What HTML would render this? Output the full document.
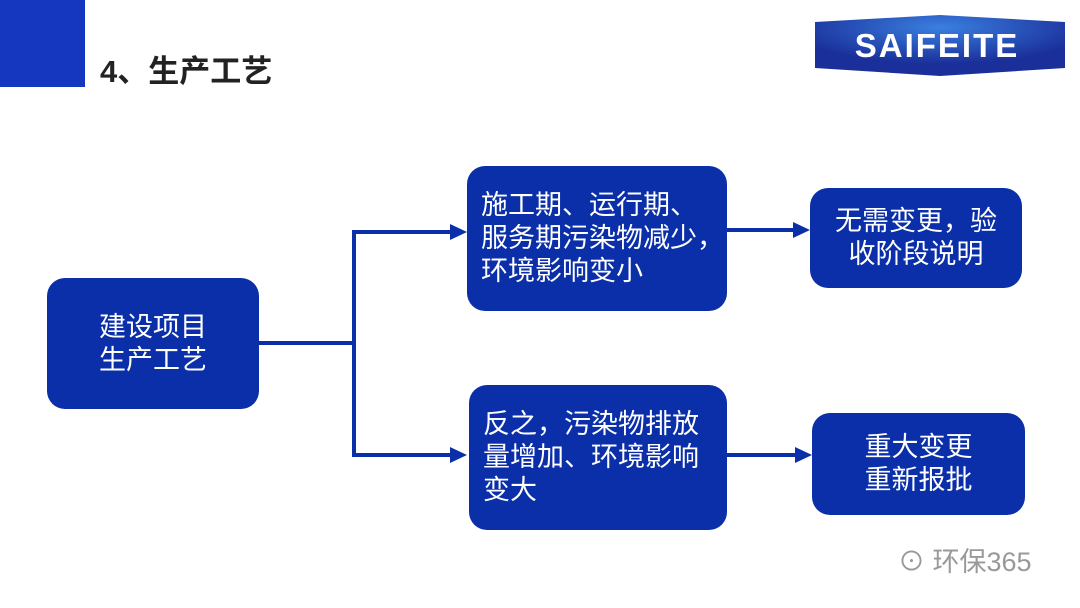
<!DOCTYPE html>
<html><head><meta charset="utf-8"><style>
body{margin:0;width:1080px;height:608px;background:#fff;position:relative;overflow:hidden;font-family:"Liberation Sans","Noto Sans CJK SC",sans-serif}
.sq{position:absolute;left:0;top:0;width:85px;height:87px;background:#1537c0}
.title{position:absolute;left:100px;top:46px;font-size:31px;font-weight:bold;color:#222}
.box{position:absolute;background:#0a2fa8;border-radius:18px;color:#fff;font-size:27px;line-height:33px;box-sizing:border-box;display:flex;align-items:center;white-space:nowrap}
.c{justify-content:center;text-align:center}
.l{padding-left:14px}
.wm{position:absolute;left:898px;top:540px;font-size:27px;color:#999}
</style></head><body>
<div class="sq"></div>
<div class="title">4、生产工艺</div>
<svg style="position:absolute;left:0;top:0" width="1080" height="608">
<defs><radialGradient id="g" cx="50%" cy="20%" r="60%"><stop offset="0" stop-color="#3a7fe0"/><stop offset="1" stop-color="#1a2f9a"/></radialGradient></defs>
<polygon points="815,22 940,15 1065,22 1065,68 940,76 815,68" fill="url(#g)"/>
<text x="937" y="57" text-anchor="middle" font-family="Liberation Sans" font-weight="bold" font-size="33" fill="#fff" letter-spacing="2">SAIFEITE</text>
<g stroke="#0a2fa8" stroke-width="4" fill="none">
<line x1="259" y1="343" x2="354" y2="343"/>
<line x1="354" y1="230" x2="354" y2="457"/>
<line x1="352" y1="232" x2="452" y2="232"/>
<line x1="352" y1="455" x2="452" y2="455"/>
<line x1="727" y1="230" x2="795" y2="230"/>
<line x1="727" y1="455" x2="797" y2="455"/>
</g>
<g fill="#0a2fa8">
<polygon points="450,224 467,232 450,240"/>
<polygon points="450,447 467,455 450,463"/>
<polygon points="793,222 810,230 793,238"/>
<polygon points="795,447 812,455 795,463"/>
</g>
</svg>
<div class="box c" style="left:47px;top:278px;width:212px;height:131px">建设项目<br>生产工艺</div>
<div class="box l" style="left:467px;top:166px;width:260px;height:145px">施工期、运行期、<br>服务期污染物减少，<br>环境影响变小</div>
<div class="box c" style="left:810px;top:188px;width:212px;height:100px">无需变更，验<br>收阶段说明</div>
<div class="box l" style="left:469px;top:385px;width:258px;height:145px">反之，污染物排放<br>量增加、环境影响<br>变大</div>
<div class="box c" style="left:812px;top:413px;width:213px;height:102px">重大变更<br>重新报批</div>
<div class="wm">⊙ 环保365</div>
</body></html>
